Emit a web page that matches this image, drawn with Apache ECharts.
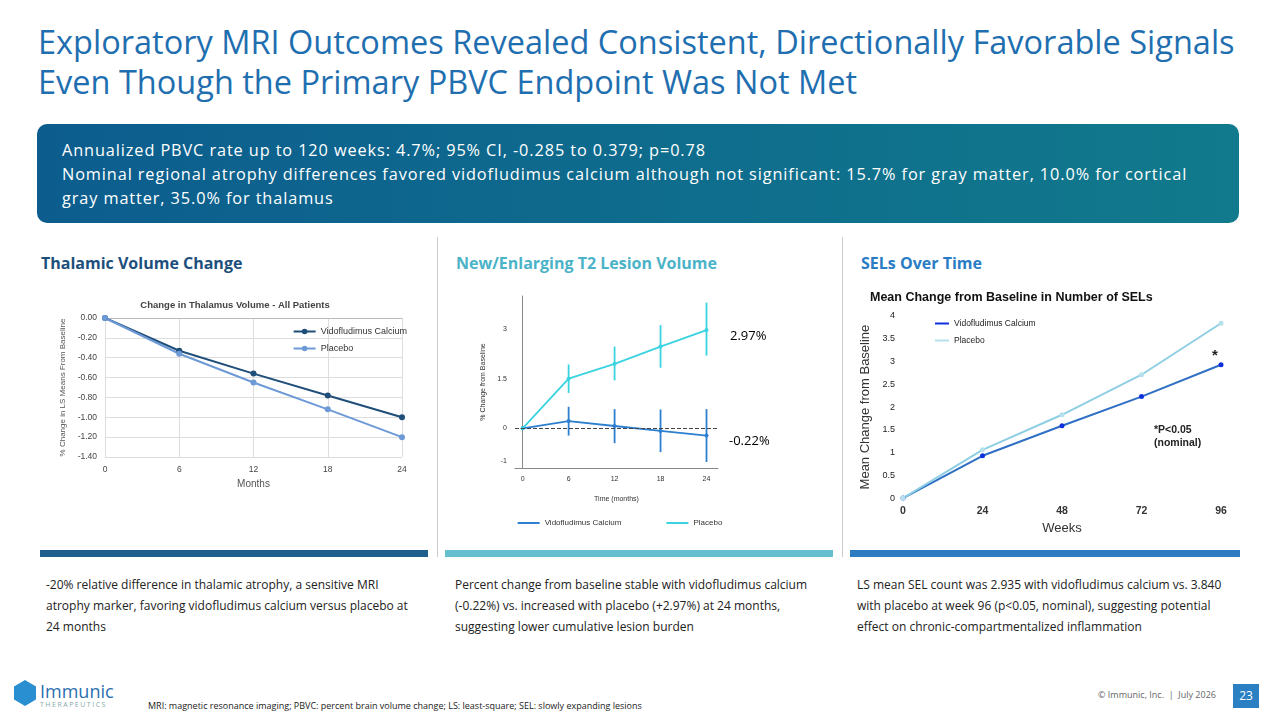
<!DOCTYPE html>
<html><head><meta charset="utf-8">
<script src="https://cdn.jsdelivr.net/npm/echarts@6/dist/echarts.min.js"></script>
<style>
body{margin:0;width:1280px;height:720px;position:relative;background:#fff;font-family:"Open Sans","Noto Sans",sans-serif;overflow:hidden}
.abs{position:absolute}
h1{position:absolute;left:38px;top:22px;margin:0;font-size:32.5px;font-weight:400;line-height:40px;color:#1f6fb0;font-family:"Open Sans",sans-serif;white-space:nowrap}
.banner{left:37px;top:124px;width:1202px;height:99px;border-radius:10px;background:linear-gradient(90deg,#0c5d8e,#117a8c);color:#fff;font-size:16.3px;letter-spacing:0.9px;line-height:24px;box-sizing:border-box;padding:14px 20px 0 25px}
.hd{font-size:16px;font-weight:700;top:252px}
.bar{top:550px;height:7px;width:388px}
.cap{top:574px;font-size:12px;line-height:21px;color:#222;width:370px}
.vl{position:absolute;left:437px;top:237px;width:1px;height:320px;background:#ccc}
</style></head><body>
<h1>Exploratory MRI Outcomes Revealed Consistent, Directionally Favorable Signals<br>Even Though the Primary PBVC Endpoint Was Not Met</h1>
<div class="abs banner">Annualized PBVC rate up to 120 weeks: 4.7%; 95% CI, -0.285 to 0.379; p=0.78<br>Nominal regional atrophy differences favored vidofludimus calcium although not significant: 15.7% for gray matter, 10.0% for cortical gray matter, 35.0% for thalamus</div>
<div class="abs hd" style="left:41px;color:#1d4f7c">Thalamic Volume Change</div>
<div class="abs hd" style="left:456px;color:#4bb3c8">New/Enlarging T2 Lesion Volume</div>
<div class="abs hd" style="left:861px;color:#2a7cc4">SELs Over Time</div>
<div class="vl"></div><div class="vl" style="left:842px"></div>
<div id="c1" class="abs" style="left:40px;top:290px;width:390px;height:205px"></div>
<div id="c2" class="abs" style="left:450px;top:285px;width:340px;height:255px"></div>
<div id="c3" class="abs" style="left:850px;top:278px;width:400px;height:262px"></div>
<div class="abs" style="left:730px;top:326px;font-size:13px">2.97%</div>
<div class="abs" style="left:729px;top:431px;font-size:13px">-0.22%</div>
<div class="abs bar" style="left:40px;background:#1d5e8c"></div>
<div class="abs bar" style="left:445px;background:#66bfce"></div>
<div class="abs bar" style="left:850px;width:390px;background:#2d7cc2"></div>
<div class="abs cap" style="left:46px">-20% relative difference in thalamic atrophy, a sensitive MRI atrophy marker, favoring vidofludimus calcium versus placebo at 24 months</div>
<div class="abs cap" style="left:455px">Percent change from baseline stable with vidofludimus calcium (-0.22%) vs. increased with placebo (+2.97%) at 24 months, suggesting lower cumulative lesion burden</div>
<div class="abs cap" style="left:857px">LS mean SEL count was 2.935 with vidofludimus calcium vs. 3.840 with placebo at week 96 (p&lt;0.05, nominal), suggesting potential effect on chronic-compartmentalized inflammation</div>
<div class="abs" style="left:14px;top:680px;width:22px;height:26px;background:#2a8fd0;clip-path:polygon(50% 0,100% 25%,100% 75%,50% 100%,0 75%,0 25%)"></div>
<div class="abs" style="left:40px;top:679px;font-size:18px;color:#2a6fb0">Immunic</div>
<div class="abs" style="left:40px;top:700px;font-size:7px;letter-spacing:1.5px;color:#8aa">THERAPEUTICS</div>
<div class="abs" style="left:148px;top:699px;font-size:9px;color:#222">MRI: magnetic resonance imaging; PBVC: percent brain volume change; LS: least-square; SEL: slowly expanding lesions</div>
<div class="abs" style="left:1098px;top:688px;font-size:9px;color:#666">© Immunic, Inc. &nbsp;|&nbsp; July 2026</div>
<div class="abs" style="left:1233px;top:684px;width:26px;height:24px;background:#2a80c2;color:#fff;font-size:12px;text-align:center;line-height:24px">23</div>
<script>
var months = [0, 6, 12, 18, 24];
var thalVido = [0, -0.33, -0.56, -0.78, -1.00];
var thalPlac = [0, -0.36, -0.65, -0.92, -1.20];

var t2Vido = [0, 0.22, 0.07, -0.08, -0.22];
var t2VidoLo = [0, -0.22, -0.45, -0.72, -1.02];
var t2VidoHi = [0, 0.65, 0.58, 0.57, 0.58];
var t2Plac = [0, 1.50, 1.95, 2.47, 2.97];
var t2PlacLo = [0, 1.07, 1.45, 1.83, 2.20];
var t2PlacHi = [0, 1.93, 2.47, 3.12, 3.80];

var weeks = [0, 24, 48, 72, 96];
var selVido = [0, 0.93, 1.59, 2.23, 2.93];
var selPlac = [0, 1.06, 1.83, 2.71, 3.84];

function pairs(xs, ys){ return xs.map(function(x,i){return [x, ys[i]];}); }

//------------------------------------------ thalamus
var c1 = echarts.init(document.getElementById('c1'));
c1.setOption({
  animation:false,
  title:{text:'Change in Thalamus Volume - All Patients',left:'center',top:5,textStyle:{fontSize:9.5,fontWeight:'bold',color:'#444'}},
  legend:{right:18,top:32,orient:'vertical',itemGap:8,itemWidth:22,itemHeight:7,textStyle:{fontSize:9,color:'#333'}},
  grid:{left:65,right:28,top:28,bottom:38},
  xAxis:{type:'value',min:0,max:24,interval:6,name:'Months',nameLocation:'middle',nameGap:20,nameTextStyle:{fontSize:10,color:'#555'},
    axisLine:{lineStyle:{color:'#bbb'}},axisTick:{show:false},axisLabel:{fontSize:8.5,color:'#444'},splitLine:{lineStyle:{color:'#ddd'}}},
  yAxis:{type:'value',min:-1.4,max:0,interval:0.2,name:'% Change in LS Means From Baseline',nameLocation:'middle',nameGap:38,nameTextStyle:{fontSize:8,color:'#555'},
    axisLine:{show:false},axisTick:{show:false},axisLabel:{fontSize:8.5,color:'#444',formatter:function(v){return v.toFixed(2);}},splitLine:{lineStyle:{color:'#ddd'}}},
  series:[
    {name:'Vidofludimus Calcium',type:'line',data:pairs(months,thalVido),symbol:'circle',symbolSize:6,color:'#1f4e79',lineStyle:{width:2}},
    {name:'Placebo',type:'line',data:pairs(months,thalPlac),symbol:'circle',symbolSize:6,color:'#6d9ad6',lineStyle:{width:2}}
  ]
});

//------------------------------------------ T2 lesions
function errBars(lo, hi, col){
  return {type:'custom',silent:true,data:months.map(function(m,i){return [m,lo[i],hi[i]];}),
    renderItem:function(p,api){
      var a=api.coord([api.value(0),api.value(1)]), b=api.coord([api.value(0),api.value(2)]);
      return {type:'line',shape:{x1:a[0],y1:a[1],x2:b[0],y2:b[1]},style:{stroke:col,lineWidth:1.8}};
    }};
}
var c2 = echarts.init(document.getElementById('c2'));
c2.setOption({
  animation:false,
  legend:{bottom:8,itemGap:45,itemWidth:22,textStyle:{fontSize:8,color:'#333'},data:[{name:'Vidofludimus Calcium',icon:'rect'},{name:'Placebo',icon:'rect'}],itemHeight:2},
  grid:{left:65,right:72,top:11,bottom:72},
  xAxis:{type:'value',min:-1,max:25.5,name:'Time (months)',nameLocation:'middle',nameGap:28,nameTextStyle:{fontSize:7,color:'#333'},
    axisLine:{onZero:false,lineStyle:{color:'#888'}},axisTick:{show:false},splitLine:{show:false},
    axisLabel:{fontSize:7,color:'#333',customValues:months}},
  yAxis:{type:'value',min:-1.2,max:4,name:'% Change from Baseline',nameLocation:'middle',nameGap:28,nameTextStyle:{fontSize:7,color:'#333'},
    axisLine:{show:true,lineStyle:{color:'#888'}},axisTick:{show:false},splitLine:{show:false},
    axisLabel:{fontSize:7,color:'#333',customValues:[-1,0,1.5,3]}},
  series:[
    {name:'Vidofludimus Calcium',type:'line',data:pairs(months,t2Vido),symbol:'circle',symbolSize:4,color:'#2d7fd0',lineStyle:{width:1.8},
      markLine:{silent:true,symbol:'none',label:{show:false},lineStyle:{type:'dashed',color:'#444',width:1},data:[{yAxis:0}]}},
    {name:'Placebo',type:'line',data:pairs(months,t2Plac),symbol:'circle',symbolSize:4,color:'#3ad3e0',lineStyle:{width:1.8}},
    errBars(t2VidoLo,t2VidoHi,'#2d7fd0'),
    errBars(t2PlacLo,t2PlacHi,'#3ad3e0')
  ]
});

//------------------------------------------ SELs
var c3 = echarts.init(document.getElementById('c3'));
c3.setOption({
  animation:false,
  title:{text:'Mean Change from Baseline in Number of SELs',left:15,top:8,textStyle:{fontSize:12.5,fontWeight:'bold',color:'#111'}},
  legend:{left:80,top:36,orient:'vertical',itemGap:8,itemWidth:14,itemHeight:2,icon:'rect',textStyle:{fontSize:8.5,color:'#222'}},
  grid:{left:53,right:29,top:38,bottom:41},
  xAxis:{type:'value',min:0,max:96,interval:24,name:'Weeks',nameLocation:'middle',nameGap:19,nameTextStyle:{fontSize:13,color:'#333'},
    axisLine:{show:false},axisTick:{show:false},splitLine:{show:false},axisLabel:{fontSize:10.5,fontWeight:'bold',color:'#333'}},
  yAxis:{type:'value',min:0,max:4,interval:0.5,name:'Mean Change from Baseline',nameLocation:'middle',nameGap:25,nameTextStyle:{fontSize:13,color:'#333'},
    axisLine:{show:false},axisTick:{show:false},splitLine:{show:false},axisLabel:{fontSize:9,color:'#222'}},
  graphic:[
    {type:'text',left:304,top:146,style:{text:'*P<0.05\n(nominal)',fontSize:10.5,fontWeight:'bold',fill:'#222',lineHeight:13}},
    {type:'text',left:362,top:70,style:{text:'*',fontSize:15,fontWeight:'bold',fill:'#222'}}
  ],
  series:[
    {name:'Vidofludimus Calcium',type:'line',data:pairs(weeks,selVido),symbol:'circle',symbolSize:5,lineStyle:{width:2,color:'#2f6fc4'},itemStyle:{color:'#1030e0'},color:'#1a3fd6'},
    {name:'Placebo',type:'line',data:pairs(weeks,selPlac),symbol:'circle',symbolSize:5,lineStyle:{width:2,color:'#8fcfe3'},itemStyle:{color:'#b5e0ec'},color:'#8fcfe3'}
  ]
});
</script>
</body></html>
